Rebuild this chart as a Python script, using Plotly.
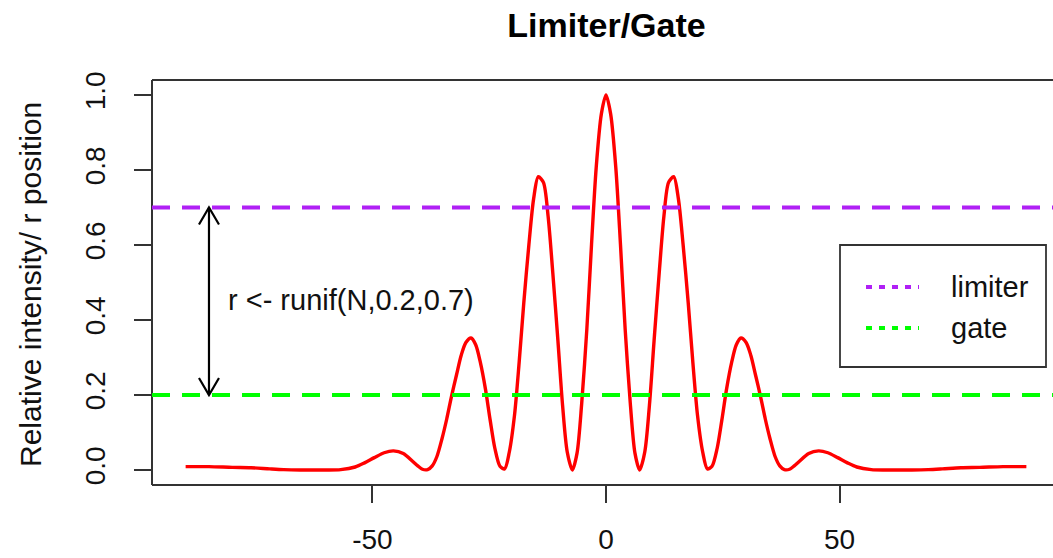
import plotly.graph_objects as go

# Intensity profile, right half (the pattern is symmetric about 0)
pos_half = [0, 1.0, 2.1, 3.1, 4.1, 5.2, 6.2, 7.2, 8.3, 9.3, 10.3, 11.4, 12.4, 13.4,
            14.5, 15.5, 16.5, 17.6, 18.6, 19.6, 20.7, 21.7, 22.7, 23.8, 24.8, 25.8,
            26.9, 27.9, 28.9, 30.0, 31.0, 32.0, 33.1, 34.1, 35.1, 36.2, 37.2, 38.2,
            39.3, 40.3, 41.3, 43.4, 45.5, 47.5, 49.6, 51.7, 53.7, 56.8, 59.9, 62.5,
            65.5, 69, 72, 76, 80, 85, 90]
intensity_half = [1.000, 0.949, 0.806, 0.601, 0.376, 0.178, 0.045, 0.000, 0.048, 0.173,
                  0.346, 0.527, 0.677, 0.767, 0.782, 0.723, 0.602, 0.446, 0.286, 0.145,
                  0.048, 0.003, 0.010, 0.058, 0.133, 0.215, 0.287, 0.334, 0.352, 0.340,
                  0.306, 0.254, 0.195, 0.136, 0.084, 0.036, 0.011, 0.001, 0.002, 0.011,
                  0.022, 0.044, 0.051, 0.046, 0.033, 0.019, 0.008, 0.001, 0.000, 0.000,
                  0.000, 0.001, 0.003, 0.006, 0.007, 0.009, 0.009]

position = [-p for p in reversed(pos_half[1:])] + pos_half
intensity = list(reversed(intensity_half[1:])) + intensity_half

limiter = 0.7
gate = 0.2
arrow_x = -85
label_text = "r &lt;- runif(N,0.2,0.7)"
legend_names = ["limiter", "gate"]
x_ticks = [-50, 0, 50]
y_ticks = [0.0, 0.2, 0.4, 0.6, 0.8, 1.0]

PURPLE = "#B020F5"
GREEN = "#00FF00"
FONT = "Liberation Sans, Arial, sans-serif"

W, H = 1053, 558
ML, MR, MT, MB = 152, 0, 80, 73
PW, PH = W - ML - MR, H - MT - MB
XR = [-97.2, 95.7]
YR = [-0.04, 1.04]


def px_to_paper_x(px):
    return (px - ML) / PW


def px_to_paper_y(py):
    return 1 - (py - MT) / PH


ux = (XR[1] - XR[0]) / PW   # data units per pixel
uy = (YR[1] - YR[0]) / PH

fig = go.Figure()
fig.add_trace(go.Scatter(x=position, y=intensity, mode="lines",
                         line=dict(color="#FF0000", width=3.4, shape="spline", smoothing=0.8),
                         showlegend=False, hoverinfo="skip"))

shapes = []
# plot frame (right side runs past the page edge)
frame = dict(type="line", xref="paper", yref="paper", line=dict(color="#333333", width=2))
shapes.append({**frame, "x0": 0, "x1": 1, "y0": 1, "y1": 1})
shapes.append({**frame, "x0": 0, "x1": 1, "y0": 0, "y1": 0})
shapes.append({**frame, "x0": 0, "x1": 0, "y0": 0, "y1": 1})

# limiter / gate thresholds
for level, col in [(limiter, PURPLE), (gate, GREEN)]:
    shapes.append(dict(type="line", xref="paper", yref="y", x0=0, x1=1, y0=level, y1=level,
                       line=dict(color=col, width=4, dash="18px,12px")))

# double-headed arrow between the thresholds
shapes.append(dict(type="line", xref="x", yref="y", x0=arrow_x, x1=arrow_x, y0=gate, y1=limiter,
                   line=dict(color="black", width=2.2)))
hx, hy = 10 * ux, 17 * uy
head = (f"M{arrow_x - hx},{limiter - hy} L{arrow_x},{limiter} L{arrow_x + hx},{limiter - hy} "
        f"M{arrow_x - hx},{gate + hy} L{arrow_x},{gate} L{arrow_x + hx},{gate + hy}")
shapes.append(dict(type="path", xref="x", yref="y", path=head,
                   line=dict(color="black", width=2.2)))

# legend box
shapes.append(dict(type="rect", xref="paper", yref="paper",
                   x0=px_to_paper_x(840), x1=px_to_paper_x(1046),
                   y0=px_to_paper_y(367), y1=px_to_paper_y(245),
                   line=dict(color="#333333", width=1.8), fillcolor="white"))

annotations = []
for name, col, py in [(legend_names[0], PURPLE, 287), (legend_names[1], GREEN, 328)]:
    shapes.append(dict(type="line", xref="paper", yref="paper",
                       x0=px_to_paper_x(866), x1=px_to_paper_x(919),
                       y0=px_to_paper_y(py), y1=px_to_paper_y(py),
                       line=dict(color=col, width=4, dash="6px,7px")))
    annotations.append(dict(text=name, xref="paper", yref="paper", x=px_to_paper_x(949),
                            y=px_to_paper_y(py), xanchor="left", yanchor="middle",
                            showarrow=False, font=dict(size=29, family=FONT, color="#111")))

annotations.append(dict(text=label_text, xref="x", yref="y", x=-81.3, y=0.453,
                        xanchor="left", yanchor="middle", showarrow=False,
                        font=dict(size=29, family=FONT, color="#111")))

# y-axis title
annotations.append(dict(text="Relative intensity/ r position", xref="paper", yref="paper",
                        x=px_to_paper_x(30), y=px_to_paper_y(285), xanchor="center",
                        yanchor="middle", textangle=-90, showarrow=False,
                        font=dict(size=30, family=FONT, color="#111")))

fig.update_layout(
    width=W, height=H,
    margin=dict(l=ML, r=MR, t=MT, b=MB, autoexpand=False),
    paper_bgcolor="white", plot_bgcolor="white",
    title=dict(text="Limiter/Gate", xref="container", yref="container",
               x=606.5 / W, y=1 - 25 / H, xanchor="center", yanchor="middle",
               font=dict(size=34, family=FONT, color="black", weight="bold")),
    xaxis=dict(range=XR, tickvals=x_ticks, ticktext=[str(v) for v in x_ticks],
               ticks="outside", ticklen=17, tickwidth=2, tickcolor="#333333",
               showgrid=False, zeroline=False, showline=False, automargin=False,
               ticklabelstandoff=12,
               tickfont=dict(size=28, family=FONT, color="#111")),
    yaxis=dict(range=YR, tickvals=y_ticks, ticktext=[f"{v:.1f}" for v in y_ticks],
               ticks="outside", ticklen=17, tickwidth=2, tickcolor="#333333",
               showgrid=False, zeroline=False, showline=False, tickangle=-90,
               automargin=False, ticklabelstandoff=18,
               tickfont=dict(size=28, family=FONT, color="#111")),
    shapes=shapes, annotations=annotations, showlegend=False,
)

fig.write_html("out.html")
